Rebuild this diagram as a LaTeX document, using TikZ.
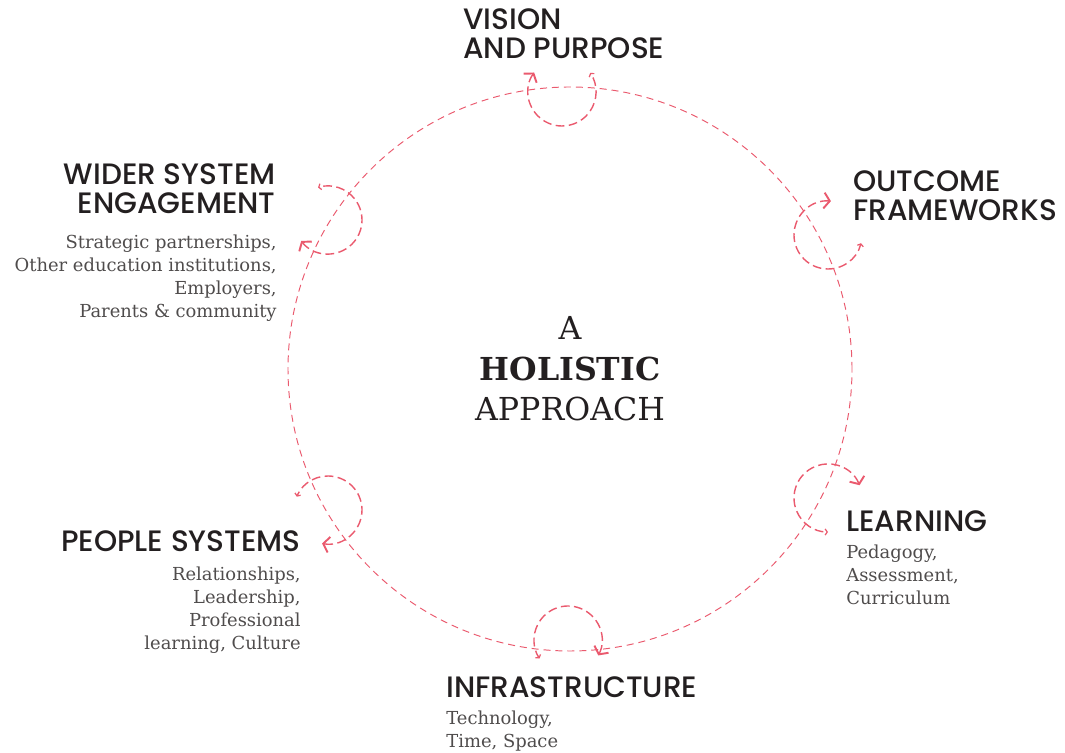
\documentclass[tikz,border=0pt]{standalone}
\usepackage{fontspec}
\setmainfont{DejaVu Serif}
\newfontfamily\headfont{Poppins Medium}
\usetikzlibrary{arrows.meta}
\definecolor{loopred}{RGB}{234,90,110}
\definecolor{ink}{RGB}{35,31,32}
\tikzset{
    ring/.style={draw=loopred,line width=0.55pt,dash pattern=on 4pt off 2.8pt},
    loopline/.style={draw=loopred,line width=0.8pt,dash pattern=on 5pt off 2.5pt,
        {Straight Barb[length=3.3pt,width=9pt,line width=1.1pt]}-{Straight Barb[length=1.2pt,width=3.5pt,line width=0.7pt]}},
    head/.style={inner sep=0pt,text=ink,font=\headfont\fontsize{16.8}{16.5}\selectfont},
    blurb/.style={inner sep=0pt,text=ink!80,font=\fontsize{10.2}{13}\selectfont},
}

\begin{document}
\begin{tikzpicture}[x=0.2mm,y=0.2mm]
\useasboundingbox (0,0) rectangle (1065,753);
\coordinate (hub) at (570,384);
\draw[ring] (hub) circle (282);
% loops round the ring
\draw[loopline] (562,661) ++(145:34) arc[start angle=145,end angle=394,radius=34];
\draw[loopline] (828,518) ++(85:34) arc[start angle=85,end angle=346,radius=34];
\draw[loopline] (828,255) ++(22:34) arc[start angle=22,end angle=270,radius=34];
\draw[loopline] (568,113) ++(333:34) arc[start angle=333,end angle=573,radius=34];
\draw[loopline] (328,243) ++(260:34) arc[start angle=260,end angle=517,radius=34];
\draw[loopline] (328,533) ++(218:34) arc[start angle=218,end angle=467,radius=34];
% centre
\node[text=ink,align=center,font=\fontsize{18}{23}\selectfont] (approach) at (hub) {A\\\textbf{HOLISTIC}\\APPROACH};
% labels
\node[head,anchor=north west,align=left] (vision) at (463,745) {VISION\\AND PURPOSE};
\node[head,anchor=north west,align=left] (outcome) at (853,583) {OUTCOME\\FRAMEWORKS};
\node[head,anchor=north east,align=right] (wider) at (276,590) {WIDER SYSTEM\\ENGAGEMENT};
\node[blurb,anchor=north east,align=right] (widertext) at (277,518) {Strategic partnerships,\\Other education institutions,\\Employers,\\Parents \& community};
\node[head,anchor=north east,align=right] (people) at (301,223) {PEOPLE SYSTEMS};
\node[blurb,anchor=north east,align=right] (peopletext) at (301,186) {Relationships,\\Leadership,\\Professional\\learning, Culture};
\node[head,anchor=north west,align=left] (learning) at (846,243) {LEARNING};
\node[blurb,anchor=north west,align=left] (learningtext) at (846,208) {Pedagogy,\\Assessment,\\Curriculum};
\node[head,anchor=north west,align=left] (infra) at (446,77) {INFRASTRUCTURE};
\node[blurb,anchor=north west,align=left] (infratext) at (446,42) {Technology,\\Time, Space};
\end{tikzpicture}
\end{document}
